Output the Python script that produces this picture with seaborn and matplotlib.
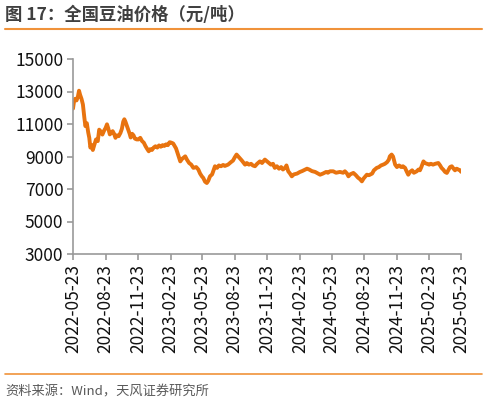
import pandas as pd
import seaborn as sns
import matplotlib.pyplot as plt

start_date = '2022-05-23'
# days after start_date, price (yuan/ton)
day_offsets = [0, 3, 6, 10, 14, 17, 20, 24, 28, 32, 35, 39, 43, 46, 49, 53, 56, 60, 65, 70,
               74, 78, 83, 88, 92, 96, 100, 104, 108, 112, 116, 120, 124, 129, 134, 138, 142, 145, 148, 152,
               156, 160, 163, 167, 171, 175, 180, 185, 190, 195, 200, 205, 210, 214, 218, 223, 228, 233, 238, 243,
               248, 253, 258, 263, 268, 273, 278, 283, 291, 297, 303, 308, 317, 322, 328, 334, 340, 348, 354, 359,
               364, 368, 373, 378, 382, 387, 393, 397, 401, 407, 412, 418, 424, 429, 438, 446, 452, 457, 462, 467,
               473, 477, 486, 491, 497, 503, 508, 514, 520, 528, 534, 542, 548, 553, 559, 565, 570, 576, 582, 588,
               593, 599, 603, 608, 613, 618, 624, 633, 641, 647, 655, 661, 667, 675, 684, 692, 698, 706, 715, 720,
               726, 735, 743, 754, 763, 768, 774, 778, 783, 792, 799, 805, 811, 816, 821, 830, 836, 845, 850, 858,
               864, 870, 876, 881, 887, 892, 895, 900, 904, 907, 910, 915, 921, 927, 932, 938, 942, 947, 952, 958,
               963, 971, 976, 980, 984, 990, 994, 1000, 1006, 1011, 1017, 1023, 1032, 1037, 1041, 1046, 1051, 1056, 1060, 1065,
               1070, 1075, 1079, 1084, 1089, 1094, 1096]
prices = [11950, 12400, 12550, 12450, 12700, 13050, 12800, 12550, 12200, 11400, 10870, 11050, 10480, 10150, 9550, 9700, 9400, 9700, 10050, 9950,
          10650, 10550, 10350, 10600, 10750, 10980, 10700, 10360, 10450, 10560, 10400, 10150, 10300, 10250, 10450, 10700, 11150, 11290, 11150, 10900,
          10670, 10400, 10170, 10400, 10300, 10100, 10050, 10050, 10150, 9950, 9850, 9630, 9450, 9320, 9450, 9400, 9550, 9630, 9550, 9680,
          9600, 9700, 9650, 9750, 9700, 9880, 9850, 9800, 9500, 9100, 8700, 8850, 9010, 8800, 8600, 8500, 8300, 8350, 8200, 7950,
          7780, 7680, 7450, 7370, 7500, 7780, 7900, 8150, 8400, 8300, 8450, 8400, 8480, 8420, 8500, 8650, 8750, 8950, 9120, 9000,
          8850, 8750, 8500, 8600, 8500, 8550, 8450, 8400, 8550, 8700, 8600, 8810, 8700, 8600, 8500, 8550, 8300, 8400, 8250, 8350,
          8200, 8300, 8450, 8090, 7950, 7780, 7900, 7950, 8050, 8100, 8190, 8250, 8200, 8100, 8050, 7950, 7880, 7950, 8050, 8000,
          8090, 8090, 8000, 8050, 8000, 8090, 7950, 7780, 7900, 7990, 7850, 7700, 7600, 7470, 7650, 7880, 7850, 7950, 8150, 8300,
          8350, 8450, 8500, 8550, 8650, 8800, 9010, 9120, 9000, 8750, 8500, 8350, 8450, 8350, 8400, 8300, 8100, 7880, 8050, 8150,
          8000, 8090, 8200, 8150, 8350, 8700, 8600, 8550, 8500, 8550, 8500, 8550, 8600, 8450, 8300, 8190, 8050, 7990, 8150, 8350,
          8400, 8250, 8150, 8250, 8190, 8150, 8060]
tick_dates = ['2022-05-23', '2022-08-23', '2022-11-23', '2023-02-23', '2023-05-23', '2023-08-23', '2023-11-23',
              '2024-02-23', '2024-05-23', '2024-08-23', '2024-11-23', '2025-02-23', '2025-05-23']
y_ticks = [3000, 5000, 7000, 9000, 11000, 13000, 15000]

df = pd.DataFrame({'date': pd.to_datetime(start_date) + pd.to_timedelta(day_offsets, unit='D'),
                   'price': prices})

sns.set_style('white')
plt.rcParams['font.family'] = ['Noto Sans CJK SC', 'DejaVu Sans']

orange = '#E8730F'
grey = '#999999'

fig = plt.figure(figsize = (4.87, 4.04), dpi = 100)
ax = fig.add_axes([73/487, 1 - 254/404, 388/487, 195/404])
sns.lineplot(x = 'date', y = 'price', data = df, color = orange, linewidth = 2.8, ax = ax)

ax.set_xlim(pd.to_datetime(tick_dates[0]), pd.to_datetime(tick_dates[-1]))
ax.set_ylim(3000, 15000)
ax.set_yticks(y_ticks)
ax.set_xticks(pd.to_datetime(tick_dates))
ax.set_xticklabels(tick_dates, rotation = 90)
ax.set_xlabel('')
ax.set_ylabel('')
for s in ['top', 'right']:
    ax.spines[s].set_visible(False)
for s in ['left', 'bottom']:
    ax.spines[s].set_color(grey)
    ax.spines[s].set_linewidth(1.2)
ax.tick_params(axis = 'both', direction = 'out', length = 4, width = 1.2, color = grey,
               labelsize = 12.5, labelcolor = '#111111', left = True, bottom = True, pad = 3)

fig.text(5/487, 1 - 15/404, '图 17：全国豆油价格（元/吨）', fontsize = 12.5, fontweight = 'bold',
         color = '#404040', va = 'center', ha = 'left')
fig.add_artist(plt.Line2D([5/487, 482/487], [1 - 29/404, 1 - 29/404], color = '#F0923A', linewidth = 1.5))
fig.add_artist(plt.Line2D([5/487, 482/487], [1 - 374/404, 1 - 374/404], color = '#F0923A', linewidth = 1.2))
fig.text(5/487, 1 - 392/404, '资料来源：Wind，天风证券研究所', fontsize = 9.5, color = '#595959',
         va = 'center', ha = 'left')

plt.savefig('out.png', dpi = 100)
